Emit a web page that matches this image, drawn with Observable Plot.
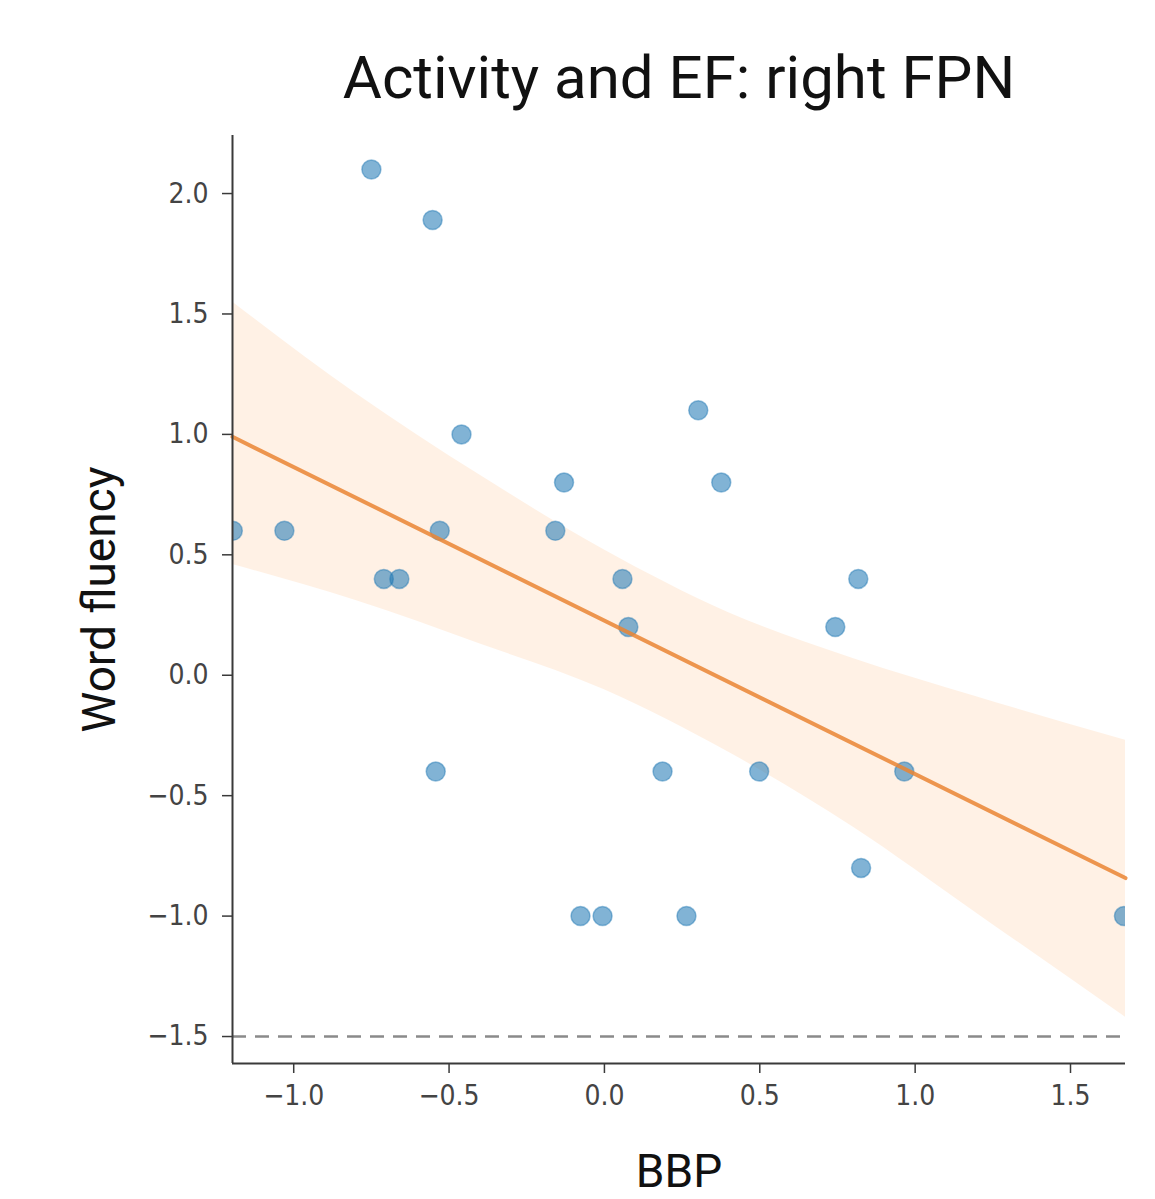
<!DOCTYPE html>
<html>
<head>
<meta charset="utf-8">
<script src="https://cdn.jsdelivr.net/npm/d3@7"></script>
<script src="https://cdn.jsdelivr.net/npm/@observablehq/plot@0.6"></script>
<style>
  html, body { margin: 0; padding: 0; background: #fff; }
  #chart svg { display: block; }
</style>
</head>
<body>
<div id="chart"></div>
<script>
// ---- data ----
const titleText = "Activity and EF: right FPN";
const xLabel = "BBP";
const yLabel = "Word fluency";

const bbp = [-1.196, -1.03, -0.75, -0.553, -0.71, -0.66, -0.53, -0.46, -0.543, -0.13, -0.158,
             0.058, 0.077, -0.077, -0.006, 0.187, 0.264, 0.302, 0.376, 0.498, 0.743, 0.817,
             0.826, 0.965, 1.672];
const fluency = [0.6, 0.6, 2.1, 1.89, 0.4, 0.4, 0.6, 1.0, -0.4, 0.8, 0.6,
                 0.4, 0.2, -1.0, -1.0, -0.4, -1.0, 1.1, 0.8, -0.4, 0.2, 0.4,
                 -0.8, -0.4, -1.0];

// regression line endpoints
const fitX = [-1.197, 1.677];
const fitY = [0.99, -0.842];

// confidence band
const bandX = [-1.197, -0.8, -0.4, 0.0, 0.4, 0.8, 1.2, 1.677];
const bandLow = [0.46, 0.31, 0.13, -0.06, -0.32, -0.63, -0.99, -1.42];
const bandHigh = [1.55, 1.17, 0.83, 0.52, 0.26, 0.07, -0.09, -0.27];

// reference dashed line
const refY = [-1.5];

const xTicks = [-1.0, -0.5, 0.0, 0.5, 1.0, 1.5];
const yTicks = [-1.5, -1.0, -0.5, 0.0, 0.5, 1.0, 1.5, 2.0];
const xDomain = [-1.197, 1.677];
const yDomain = [-1.612, 2.241];

// ---- build ----
const points = bbp.map((x, i) => ({x, y: fluency[i]}));
const fit = fitX.map((x, i) => ({x, y: fitY[i]}));
const band = bandX.map((x, i) => ({x, lo: bandLow[i], hi: bandHigh[i]}));
const fmt = d => (d < 0 ? "\u2212" : "") + Math.abs(d).toFixed(1);

const axisColor = "#3a3a3a";
const tickFont = "'DejaVu Sans Condensed', 'DejaVu Sans', sans-serif";

const chart = Plot.plot({
  width: 1155,
  height: 1199,
  marginLeft: 232,
  marginRight: 30,
  marginTop: 135,
  marginBottom: 136,
  style: {background: "#fff", fontFamily: tickFont, fontStretch: "condensed"},
  x: {domain: xDomain},
  y: {domain: yDomain},
  marks: [
    Plot.areaY(band, {x: "x", y1: "lo", y2: "hi", fill: "#ff7f0e", fillOpacity: 0.11, curve: "monotone-x"}),
    Plot.ruleY(refY, {stroke: "#8a8a8a", strokeWidth: 2.5, strokeDasharray: "14,9"}),
    Plot.dot(points, {x: "x", y: "y", r: 9.5, fill: "#1f77b4", fillOpacity: 0.56,
                      stroke: "#1f77b4", strokeOpacity: 0.45, strokeWidth: 1.5, clip: true}),
    Plot.line(fit, {x: "x", y: "y", stroke: "#ea8534", strokeOpacity: 0.85, strokeWidth: 4}),
    Plot.ruleX([xDomain[0]], {stroke: axisColor, strokeWidth: 2}),
    Plot.ruleY([yDomain[0]], {stroke: axisColor, strokeWidth: 2}),
    Plot.axisX({ticks: xTicks, tickFormat: fmt, tickSize: 10, tickPadding: 12, fontSize: 28,
                color: "#444", stroke: axisColor, strokeWidth: 1.5, label: null}),
    Plot.axisY({ticks: yTicks, tickFormat: fmt, tickSize: 10, tickPadding: 14, fontSize: 28,
                color: "#444", stroke: axisColor, strokeWidth: 1.5, label: null}),
    Plot.text([titleText], {frameAnchor: "top", dy: -57, fontSize: 60, fontFamily: "Roboto",
                            fill: "#111", lineAnchor: "middle", textAnchor: "middle"}),
    Plot.text([yLabel], {frameAnchor: "left", dx: -132, rotate: -90, fontSize: 46, fontFamily: "Roboto",
                         fill: "#111", lineAnchor: "middle", textAnchor: "middle"}),
    Plot.text([xLabel], {frameAnchor: "bottom", dy: 109, fontSize: 46, fontFamily: "Roboto",
                         fill: "#111", lineAnchor: "middle", textAnchor: "middle"})
  ]
});
// title and axis titles use normal-width Roboto
d3.select(chart).selectAll("text")
  .filter(function() { return [titleText, xLabel, yLabel].includes(this.textContent); })
  .style("font-stretch", "normal");
document.getElementById("chart").append(chart);
</script>
</body>
</html>
